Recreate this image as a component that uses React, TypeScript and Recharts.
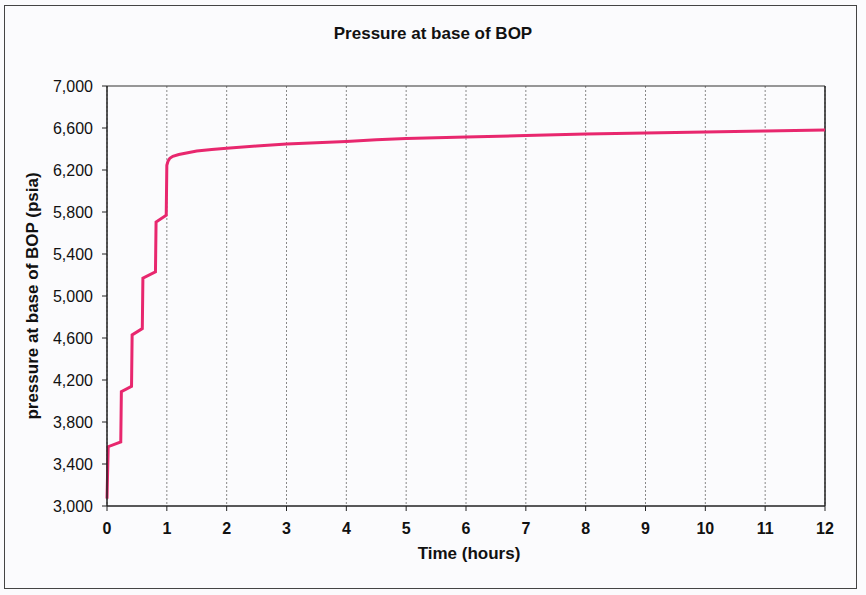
import React from "react";
import { LineChart, Line, XAxis, YAxis, CartesianGrid, ReferenceLine } from "recharts";

const timeHours = [
  0, 0.02, 0.23, 0.24, 0.41, 0.42, 0.59, 0.6, 0.81, 0.82, 0.99, 1.0,
  1.02, 1.05, 1.1, 1.2, 1.35, 1.5, 1.75, 2, 2.5, 3, 3.5, 4, 4.5, 5, 6, 7, 8, 9, 10, 11, 12,
];
const pressurePsia = [
  3070, 3565, 3610, 4090, 4140, 4630, 4690, 5170, 5230, 5705, 5770, 6245,
  6285, 6312, 6330, 6348, 6365, 6380, 6395, 6407, 6428, 6447, 6460, 6472, 6488, 6500, 6515, 6528, 6542, 6552, 6562, 6572, 6580,
];
const xTicks = [0, 1, 2, 3, 4, 5, 6, 7, 8, 9, 10, 11, 12];
const yTicks = [3000, 3400, 3800, 4200, 4600, 5000, 5400, 5800, 6200, 6600, 7000];

const data = timeHours.map((t, i) => ({ t, p: pressurePsia[i] }));

const FONT = "'Liberation Sans', Arial, sans-serif";

export default function App() {
  return (
    <div
      style={{
        position: "absolute",
        left: 0,
        top: 0,
        width: 866,
        height: 595,
        background: "#fbfbfd",
        fontFamily: FONT,
      }}
    >
      <div
        style={{
          position: "absolute",
          left: 4,
          top: 5,
          width: 853,
          height: 584,
          border: "1px solid #444",
          boxSizing: "border-box",
        }}
      />
      <div
        style={{
          position: "absolute",
          left: 0,
          width: 866,
          top: 24,
          textAlign: "center",
          fontSize: 17,
          fontWeight: "bold",
          color: "#111",
        }}
      >
        Pressure at base of BOP
      </div>
      <div
        style={{
          position: "absolute",
          left: 369,
          width: 200,
          top: 544,
          textAlign: "center",
          fontSize: 17,
          fontWeight: "bold",
          color: "#111",
        }}
      >
        Time (hours)
      </div>
      <div style={{ position: "absolute", left: 0, top: 0 }}>
        <LineChart
          width={866}
          height={595}
          data={data}
          margin={{ top: 86, right: 41, bottom: 49, left: 0 }}
        >
          <CartesianGrid horizontal={false} stroke="#888" strokeDasharray="2 2" />
          <XAxis
            dataKey="t"
            type="number"
            domain={[0, 12]}
            ticks={xTicks}
            interval={0}
            height={40}
            axisLine={{ stroke: "#222", strokeWidth: 1.5 }}
            tickLine={{ stroke: "#222" }}
            tickSize={5}
            tick={{ fill: "#111", fontSize: 16, fontFamily: FONT, fontWeight: 600 }}
            tickMargin={12}
          />
          <YAxis
            type="number"
            domain={[3000, 7000]}
            ticks={yTicks}
            interval={0}
            width={107}
            axisLine={{ stroke: "#222", strokeWidth: 1.5 }}
            tickLine={{ stroke: "#222" }}
            tickSize={5}
            tickMargin={9}
            tick={{ fill: "#111", fontSize: 16, fontFamily: FONT }}
            tickFormatter={(v: number) => v.toLocaleString("en-US")}
            label={{
              value: "pressure at base of BOP (psia)",
              angle: -90,
              position: "insideLeft",
              offset: 32,
              style: { textAnchor: "middle" },
              fill: "#111",
              fontSize: 17,
              fontWeight: "bold",
              fontFamily: FONT,
            }}
          />
          <ReferenceLine y={7000} stroke="#333" strokeWidth={1.2} />
          <ReferenceLine x={12} stroke="#222" strokeWidth={1.5} />
          <Line
            type="linear"
            dataKey="p"
            stroke="#e8276e"
            strokeWidth={3}
            dot={false}
            isAnimationActive={false}
          />
        </LineChart>
      </div>
    </div>
  );
}
